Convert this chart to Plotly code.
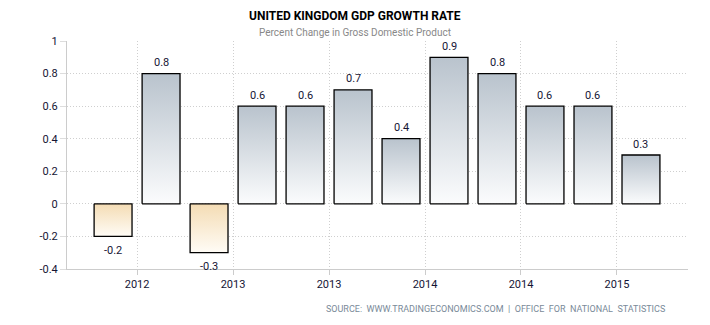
import plotly.graph_objects as go

# Quarterly GDP growth, percent change on previous quarter
quarters = ["2012 Q2", "2012 Q3", "2012 Q4", "2013 Q1", "2013 Q2", "2013 Q3",
            "2013 Q4", "2014 Q1", "2014 Q2", "2014 Q3", "2014 Q4", "2015 Q1"]
growth = [-0.2, 0.8, -0.3, 0.6, 0.6, 0.7, 0.4, 0.9, 0.8, 0.6, 0.6, 0.3]
tick_positions = [0.5, 2.5, 4.5, 6.5, 8.5, 10.5]
tick_labels = ["2012", "2013", "2013", "2014", "2014", "2015"]
y_ticks = [-0.4, -0.2, 0, 0.2, 0.4, 0.6, 0.8, 1]
y_tick_labels = ["-0.4", "-0.2", "0", "0.2", "0.4", "0.6", "0.8", "1"]

FONT = "Roboto"
BAR_W = 0.79
half = BAR_W / 2
W, H = 710, 325
ML, MR, MT, MB = 67, 22, 41, 56
pw, ph = W - ML - MR, H - MT - MB

fig = go.Figure()

# Each bar is a filled polygon so it can carry a vertical gradient
for i, v in enumerate(growth):
    if v >= 0:
        scale = [[0, "#fbfcfd"], [1, "#b9c3cd"]]
    else:
        scale = [[0, "#fffcf6"], [1, "#f4dcb4"]]
    fig.add_trace(go.Scatter(
        x=[i - half, i + half, i + half, i - half, i - half],
        y=[0, 0, v, v, 0],
        mode="lines",
        fill="toself",
        fillgradient=dict(type="vertical", colorscale=scale),
        line=dict(color="#000000", width=1.3),
        hoverinfo="skip",
        showlegend=False,
    ))

# Value labels above positive bars and below negative ones
annotations = []
for i, v in enumerate(growth):
    annotations.append(dict(
        x=i, y=v, xref="x", yref="y", text=f"{v:g}", showarrow=False,
        yanchor="middle", yshift=11 if v >= 0 else -14,
        font=dict(family=FONT, size=11, color="#151535"),
    ))


def px_y(y):
    return (H - MB - y) / ph


annotations += [
    dict(text="UNITED KINGDOM GDP GROWTH RATE", x=(W / 2 - ML) / pw, y=px_y(16),
         xref="paper", yref="paper", xanchor="center", yanchor="middle", showarrow=False,
         font=dict(family=FONT, size=12, color="#000000", weight="bold")),
    dict(text="Percent Change in Gross Domestic Product", x=(W / 2 - ML) / pw, y=px_y(33),
         xref="paper", yref="paper", xanchor="center", yanchor="middle", showarrow=False,
         font=dict(family=FONT, size=10, color="#888888")),
    dict(text="SOURCE:  WWW.TRADINGECONOMICS.COM  |  OFFICE  FOR  NATIONAL  STATISTICS",
         x=(667 - ML) / pw, y=px_y(309), xref="paper", yref="paper",
         xanchor="right", yanchor="middle", showarrow=False,
         font=dict(family=FONT, size=9, color="#7a8a99")),
]

grid = dict(showgrid=True, gridcolor="#cfcfcf", griddash="1px,2px", gridwidth=1,
            showline=True, linecolor="#cccccc", linewidth=1, zeroline=False)

fig.update_layout(
    width=W, height=H,
    margin=dict(l=ML, r=MR, t=MT, b=MB),
    paper_bgcolor="white",
    plot_bgcolor="white",
    showlegend=False,
    xaxis=dict(
        range=[-0.96, len(growth) - 1 + 0.98],
        tickmode="array", tickvals=tick_positions, ticktext=tick_labels,
        ticks="outside", ticklen=5, tickcolor="#cccccc",
        tickfont=dict(family=FONT, size=11, color="#151535"),
        **grid,
    ),
    yaxis=dict(
        range=[-0.4, 1],
        tickmode="array", tickvals=y_ticks, ticktext=y_tick_labels,
        ticks="outside", ticklen=6, tickcolor="#dddddd",
        tickfont=dict(family=FONT, size=11, color="#151535"),
        **grid,
    ),
    annotations=annotations,
)

fig.write_html("out.html")
